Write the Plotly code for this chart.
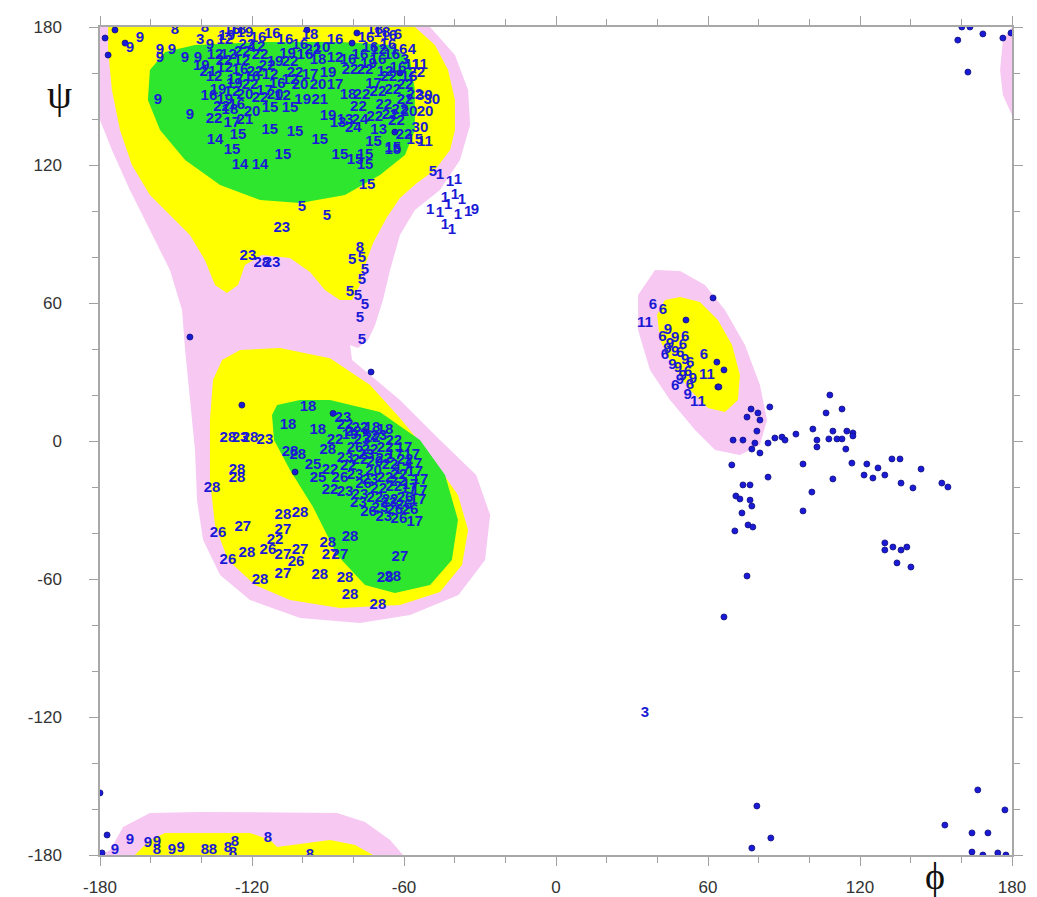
import plotly.graph_objects as go

# ---------------- favoured / allowed regions (phi, psi) ----------------
pink_main = [(-180, 180), (-49.7, 180), (-39.9, 167.8), (-34.7, 152.6), (-33.9, 137.4), (-37.9, 122.2),
             (-45.8, 109.1), (-55.7, 100.4), (-61.6, 89.6), (-65.5, 74.3), (-68.3, 61.3), (-71.4, 50.4),
             (-74.2, 43.9), (-78.2, 40.4), (-81.3, 41.7), (-80.5, 35.2), (-73.4, 28.7), (-61.6, 17.8),
             (-45.8, 0.4), (-31.5, -14.8), (-26, -32.2), (-28, -51.7), (-38.5, -67), (-57.6, -75.7),
             (-77.4, -79.1), (-101, -77), (-120.8, -69.1), (-132.6, -58.3), (-139.3, -43), (-141.7, -25.7),
             (-142.5, -3.9), (-144.5, 17.8), (-146.4, 39.6), (-147.6, 57), (-152.4, 74.3), (-160.3, 91.7),
             (-168.2, 109.1), (-175.3, 126.5), (-180, 139.6)]
yellow_beta = [(-176.8, 180), (-55.7, 180), (-47.8, 172.2), (-42.6, 161.3), (-39.9, 148.3), (-39.9, 135.2),
               (-41.8, 126.5), (-47.8, 117.8), (-54.9, 112.2), (-61.6, 105.7), (-66.7, 97.4), (-72.2, 86.1),
               (-75.4, 76.5), (-77.4, 67.8), (-80.5, 61.3), (-85.3, 61.3), (-91.2, 65.7), (-97.1, 73.5),
               (-105, 79.6), (-116.1, 80.9), (-122.8, 76.5), (-125.5, 67.8), (-129.9, 64.3), (-134.6, 67.8),
               (-138.6, 78.7), (-144.5, 89.6), (-152.4, 98.3), (-160.3, 107), (-167.4, 120), (-172.1, 135.2),
               (-175.3, 152.6), (-176.8, 170)]
green_beta = [(-160.3, 161.3), (-154.3, 169.1), (-142.5, 172.2), (-116.8, 173.5), (-85.3, 173.5), (-65.5, 172.2),
              (-57.6, 165.7), (-55.7, 152.6), (-55.7, 135.2), (-59.6, 124.3), (-69.5, 115.7), (-83.3, 107),
              (-101, 103.5), (-116.8, 104.8), (-132.6, 111.3), (-146.4, 122.2), (-156.3, 135.2), (-161.1, 148.3)]
yellow_alpha = [(-124.7, 39.6), (-109, 40.4), (-89.2, 36), (-73.4, 24.3), (-61.6, 10), (-49.7, -6.1),
                (-38.7, -23.5), (-34.7, -38.7), (-37.1, -53.9), (-45.8, -65.7), (-61.6, -71.3), (-85.3, -72.6),
                (-105, -69.1), (-118.8, -62.6), (-129.5, -51.7), (-134.6, -36.5), (-136.6, -17), (-136.6, 9.1),
                (-135.4, 26.5), (-131.8, 35.2)]
green_alpha = [(-110.1, 15.7), (-101, 17.8), (-89.2, 17.8), (-69.5, 12.6), (-53.7, 0.4), (-43.8, -14.8),
               (-38.7, -34.3), (-41.1, -51.7), (-49.7, -62.6), (-63.6, -66.1), (-75.4, -62.6), (-86.4, -49.6),
               (-95.9, -28.7), (-105, -12.6), (-111.3, 0.4), (-112.1, 11.3)]
pink_left = [(39.1, 74.3), (49, 73.9), (58.8, 67.8), (66.7, 57), (74.6, 41.7), (80.5, 24.3), (83.3, 9.1),
             (80.5, -1.7), (72.6, -6.1), (62.8, -3.9), (54.9, 4.8), (45, 17.8), (37.1, 30.9), (32.4, 48.3),
             (32.4, 63.5)]
yellow_left = [(49, 62.6), (56.8, 60.4), (63.9, 52.6), (69.5, 41.7), (72.6, 28.7), (71.8, 17.8), (66.7, 12.6),
               (60, 14.3), (52.9, 22.2), (45.8, 33), (41.1, 43.9), (39.9, 54.8), (43, 61.3)]
pink_bottom = [(-180, -180), (-176, -177.8), (-170.9, -167.8), (-160.3, -161.7), (-140.5, -161.3),
               (-86.4, -161.7), (-75.4, -165.6), (-65.5, -173.5), (-60.4, -180)]
yellow_bottom = [(-166.2, -180), (-160.3, -173.5), (-154.3, -170.4), (-120.8, -170.4), (-112.9, -173.5),
                 (-110.1, -176.5), (-89.2, -173.5), (-79.3, -175.7), (-72.2, -180)]
pink_topright = [(180, 180), (176.4, 174.3), (175.3, 161.3), (176.4, 150.4), (180, 141.7)]

# ---------------- labelled residues (phi, psi, residue number) ----------------
beta_labels = [
    (-164.2, 175.2, "9"), (-168.2, 170.9, "9"), (-156.3, 170, "9"), (-151.6, 170, "9"), (-150.4, 178.7, "8"),
    (-138.6, 179.6, "8"), (-140.5, 174.3, "3"), (-136.6, 172.2, "9"), (-127.9, 178.7, "16"), (-125.5, 178.7, "18"),
    (-122.8, 177.4, "19"), (-117.6, 175.2, "16"), (-130.7, 174.3, "12"), (-107, 174.3, "16"), (-101, 172.2, "16"),
    (-97.1, 176.5, "18"), (-87.2, 174.3, "16"), (-92.4, 170.9, "10"), (-71.5, 178.7, "18"), (-68.7, 177.4, "18"),
    (-62.4, 176.5, "6"), (-66.3, 172.2, "16"), (-56.9, 170, "4"), (-59.6, 165.7, "3"), (-56.9, 163.5, "11"),
    (-53.7, 163.5, "11"),
    (-156.3, 166.5, "9"), (-146.5, 166.5, "9"), (-141.3, 166.5, "9"), (-134.6, 167.8, "12"), (-129.3, 167.8, "12"),
    (-123.8, 169.1, "22"), (-116.8, 167.8, "22"), (-110.9, 164.8, "19"), (-105, 164.8, "22"), (-99.1, 167.8, "16"),
    (-93.9, 165.7, "18"), (-87.2, 166.5, "12"), (-82.1, 165.7, "16"), (-77.4, 167.8, "16"), (-73.4, 170.9, "16"),
    (-70.3, 165.7, "16"), (-64.8, 167.8, "16"), (-62.4, 162.2, "16"), (-67.5, 160.4, "12"), (-75.4, 161.3, "22"),
    (-81.3, 161.3, "22"), (-137.4, 160.4, "21"), (-130.7, 162.2, "12"), (-124.7, 161.3, "16"), (-118.8, 160.4, "22"),
    (-112.9, 159.1, "12"), (-126.7, 157, "17"), (-120.8, 154.8, "22"),
    (-133.4, 152.6, "19"), (-127.9, 151.7, "12"), (-122.8, 150.4, "20"), (-116.8, 149.1, "22"), (-110.9, 150.4, "20"),
    (-101, 154.8, "20"), (-93.9, 154.8, "20"), (-105, 157, "12"), (-97.1, 159.1, "17"), (-87.2, 154.8, "17"),
    (-93.2, 148.3, "21"), (-82.1, 150.4, "18"), (-76.6, 150.4, "22"), (-70.3, 151.7, "22"), (-64.4, 152.6, "22"),
    (-59.6, 154.8, "22"), (-59.6, 148.3, "22"), (-55.7, 150.4, "22"), (-49, 148.3, "30"), (-51.7, 143, "20"),
    (-53.7, 136.1, "30"), (-51.7, 130, "11"), (-55.7, 130.9, "15"), (-64.4, 127.4, "15"),
    (-128.7, 143.9, "18"), (-122.8, 139.6, "21"), (-112.9, 144.8, "15"), (-105, 144.8, "15"), (-83.3, 139.6, "13"),
    (-77.4, 139.6, "24"), (-71.5, 140.9, "22"), (-65.5, 141.7, "22"), (-61.6, 143.9, "22"), (-157.1, 148.3, "9"),
    (-144.5, 141.7, "9"), (-130.7, 148.3, "19"),
    (-134.6, 130.9, "14"), (-125.5, 133, "15"), (-127.9, 126.5, "15"), (-124.7, 120, "14"), (-116.8, 120, "14"),
    (-107.8, 124.3, "15"), (-113, 135.2, "15"), (-103, 134.3, "15"), (-93.2, 130.9, "15"), (-85.3, 124.3, "15"),
    (-79.3, 122.2, "15"), (-75.4, 120, "15"), (-75.4, 124.3, "15"), (-64.4, 126.5, "15"), (-74.6, 111.3, "15"),
    (-100.3, 101.7, "5"), (-90.4, 97.8, "5"), (-108.2, 92.6, "23"), (-121.6, 80.4, "23"), (-116.1, 77.4, "28"),
    (-112.1, 77.4, "23"),
    (-77.4, 83.9, "8"), (-76.6, 79.6, "5"), (-80.5, 78.7, "5"), (-75.4, 74.3, "5"), (-76.6, 70, "5"),
    (-81.3, 64.8, "5"), (-78.2, 63, "5"), (-75.4, 59.1, "5"), (-77.4, 53.5, "5"), (-76.6, 43.9, "5"),
    (-48.6, 117, "5"), (-45.8, 115.7, "1"), (-41.9, 112.6, "1"), (-38.7, 113.5, "1"), (-43.8, 105.7, "1"),
    (-39.9, 107, "1"), (-37.1, 104.8, "1"), (-49.7, 100.4, "1"), (-45.8, 99.1, "1"), (-42.6, 102.6, "1"),
    (-38.7, 98.3, "1"), (-34.7, 99.6, "1"), (-32, 100.4, "9"), (-43.8, 93.9, "1"), (-41.1, 91.7, "1"),
    # dense core of the beta cluster
    (-140, 163, "19"), (-135, 158, "12"), (-131, 165, "22"), (-127, 155, "19"), (-124, 165, "12"),
    (-120, 158, "16"), (-118, 171, "12"), (-114, 163, "22"), (-110, 155, "16"), (-106, 168, "19"),
    (-103, 160, "22"), (-132, 145, "22"), (-126, 146, "16"), (-120, 143, "20"), (-115, 152, "17"),
    (-108, 150, "12"), (-100, 148, "19"), (-137, 150, "16"), (-135, 140, "22"), (-128, 138, "17"),
    (-96, 170, "22"), (-90, 160, "19"), (-130, 176, "19"), (-122, 172, "22"), (-112, 177, "16"),
    (-75, 175, "16"), (-70, 170, "12"), (-66, 158, "22"), (-62, 170, "16"), (-58, 158, "16"),
    (-72, 155, "17"), (-68, 146, "22"), (-63, 139, "22"), (-58, 143, "20"), (-55, 160, "22"),
    (-52, 150, "30"), (-60, 133, "22"), (-70, 135, "13"), (-78, 145, "22"), (-74, 164, "19"),
    (-66, 176, "16"), (-80, 136, "24"), (-86, 138, "13"), (-90, 141, "19"), (-72, 130, "15"),
]
alpha_labels = [
    (-97.9, 14.8, "18"), (-105.8, 7, "18"), (-94, 4.8, "18"), (-84.1, 10, "23"), (-67.5, 4.8, "18"),
    (-129.5, 1.3, "28"), (-124.7, 1.3, "23"), (-120.8, 1.3, "28"), (-114.9, 0.4, "23"), (-125.9, -12.6, "28"),
    (-125.9, -16.1, "28"), (-135.8, -20.4, "28"), (-105, -4.8, "28"), (-101.9, -6.1, "28"), (-107.8, -32.2, "28"),
    (-101, -31.3, "28"), (-123.6, -37.4, "27"), (-133.4, -40, "26"), (-107.8, -38.7, "27"), (-110.9, -43.1, "22"),
    (-129.5, -51.7, "26"), (-122, -48.7, "28"), (-113.7, -47.4, "26"), (-107.8, -49.6, "27"), (-101, -47.4, "27"),
    (-102.6, -52.6, "26"), (-116.8, -60.4, "28"), (-107.8, -57.8, "27"), (-93.2, -58.3, "28"), (-83.3, -59.6, "28"),
    (-90.1, -44.3, "28"), (-81.3, -41.7, "28"), (-89.2, -49.6, "27"), (-85.3, -49.6, "27"), (-67.5, -59.6, "28"),
    (-64.4, -59.2, "28"), (-81.3, -67, "28"), (-70.3, -71.3, "28"), (-61.6, -50.4, "27"), (-55.7, -35.2, "17"),
    (-87.2, 0.4, "22"), (-81.3, 2.6, "19"), (-76.6, 0.4, "23"), (-72.6, 1.3, "22"), (-79.3, -3, "26"),
    (-73.4, -3.9, "22"), (-67.5, -3, "22"), (-63.6, -6.1, "17"), (-59.6, -8.3, "22"), (-56.9, -6.1, "17"),
    (-83.3, -7.4, "23"), (-77.4, -8.3, "22"), (-71.5, -9.1, "20"), (-65.5, -10.4, "22"), (-60.8, -12.6, "17"),
    (-55.7, -13.5, "17"), (-89.2, -12.6, "22"), (-93.9, -16.1, "25"), (-85.3, -16.1, "26"), (-79.3, -14.8, "23"),
    (-73.4, -17, "23"), (-67.5, -16.1, "22"), (-62.4, -17.8, "22"), (-57.6, -19.1, "17"), (-53.7, -17, "17"),
    (-89.2, -21.3, "22"), (-83.3, -22.2, "23"), (-77.4, -23.5, "23"), (-71.5, -24.8, "22"), (-65.5, -25.7, "22"),
    (-59.6, -24.8, "26"), (-54.5, -25.7, "17"), (-63.6, -30, "26"), (-57.6, -30, "26"), (-69.5, -29.1, "23"),
    (-83.3, 7, "22"), (-77.4, 5.7, "22"), (-72.6, 5.7, "18"), (-90.1, -3.9, "28"), (-95.9, -10.4, "25"),
    # dense core of the alpha cluster
    (-80, 4, "22"), (-70, 2, "23"), (-64, 0, "22"), (-60, -3, "17"), (-75, -6, "23"), (-68, -8, "22"),
    (-62, -15, "22"), (-58, -21, "17"), (-64, -20, "22"), (-70, -21, "22"), (-76, -19, "26"), (-82, -11, "22"),
    (-66, -27, "23"), (-60, -28, "26"), (-54, -22, "17"), (-56, -10, "17"), (-72, -13, "20"), (-78, -27, "23"),
    (-74, -31, "26"), (-68, -33, "23"), (-62, -34, "26"),
]
left_labels = [
    (38.3, 59.1, "6"), (42.2, 57, "6"), (35.1, 51.3, "11"), (58.4, 37.4, "6"), (59.6, 28.7, "11"), (56, 16.9, "11"),
    (44.2, 48.3, "9"), (47, 44.8, "9"), (50.1, 41.7, "6"), (43, 37.4, "6"), (47, 38.7, "9"), (51, 35.2, "9"),
    (48.1, 31.7, "9"), (52.1, 30, "6"), (52.9, 24.3, "6"), (48.9, 26.5, "9"),
    (45, 42, "9"), (49, 38, "6"), (46, 33, "9"), (50, 28, "9"), (53, 34, "6"), (44, 40, "9"), (51, 45, "6"),
    (47, 24, "6"), (52, 20, "9"), (54, 27, "9"), (42, 45, "6"),
]
bottom_labels = [
    (-168.2, -173.5, "9"), (-161.1, -174.8, "9"), (-157.5, -174.3, "9"), (-157.5, -177.8, "8"), (-151.6, -177.8, "9"),
    (-148.2, -177, "9"), (-138.6, -177.8, "8"), (-135.4, -177.8, "8"), (-129.5, -177, "8"), (-126.7, -174.3, "8"),
    (-127.5, -179.1, "8"), (-113.7, -172.6, "8"), (-97.1, -180, "8"), (-174.1, -177.8, "9"), (35.1, -118.3, "3"),
]

# ---------------- unlabelled residues as dots ----------------
dots = [
    (-178, 175.2), (-174.1, 178.7), (-170.1, 173), (-176.8, 167.8), (-98.3, 178.7), (-78.6, 177.4), (-80.5, 173),
    (-63.6, 134.3), (-61.6, 160), (-144.5, 45.2), (-124, 15.6), (-73, 30), (-180, -153), (-177.2, -171.3),
    (-179.2, -179.1), (-103, -13.5), (-88, 12), (-75, 4),
    (62, 62.2), (51.3, 52.6), (63.5, 34.3), (66.3, 30.9), (63.9, 23.5),
    (108.1, 20), (112.9, 13.9), (106.6, 12.2), (64.3, 23.5), (77, 13.9), (79.7, 12.2), (80.5, 9.1), (75.4, 10.4),
    (84.4, 14.8), (79.3, 4.3), (69.9, 0.4), (73.8, 0.4), (78.5, -0.9), (77.3, -3.5), (80.5, -5.2), (83.7, -0.9),
    (86.4, 1.3), (89.2, 1.7), (90.4, 0.4), (94.7, 3), (101.4, 5.2), (103, 0.4), (103, -2.6), (107.7, 0.9),
    (110.9, 0.9), (112.9, 0.9), (109.3, 4.3), (114.8, 4.3), (117.2, 3.5), (117.2, 2.2), (114.4, -3.5),
    (69.4, -10.4), (83.7, -15.7), (97.5, -10), (116.8, -9.6), (122.7, -10), (127.1, -11.7), (132.6, -7.8),
    (135.8, -7.8), (144.1, -12.2), (121.6, -14.8), (125.1, -16.1), (129.8, -14.8), (109.3, -16.5), (136.2, -18.3),
    (140.9, -20.4), (152.3, -18.3), (154.7, -20), (73.8, -19.1), (76.6, -19.1), (71, -23.9), (72.6, -25.2),
    (76.6, -25.7), (77.3, -28.3), (73.4, -31.3), (101, -22.2), (97.5, -30.4), (75.8, -36.5), (77.7, -37.4),
    (70.6, -39.1), (129.8, -44.3), (129.8, -47.4), (133, -46.1), (136.2, -47.4), (138.5, -46.1), (134.6, -53),
    (140.1, -54.8), (75.4, -58.7), (66.3, -76.5),
    (160.2, 180), (163.4, 180), (158.6, 174.3), (168.5, 177), (176.4, 175.2), (179.6, 177.4), (162.6, 160.4),
    (79.3, -158.7), (84.8, -172.6), (77.3, -177), (166.5, -151.7), (153.5, -167), (177.2, -160.4), (164.2, -170.4),
    (170.5, -170.4), (164.2, -178.7), (168.5, -180), (174.4, -179.1), (177.6, -180),
]

PINK = "#f6c8f2"
YELLOW = "#ffff00"
GREEN = "#2ee62e"
BLUE = "#1a1ad6"

fig = go.Figure()


def add_region(pts, color):
    fig.add_trace(go.Scatter(x=[p[0] for p in pts] + [pts[0][0]], y=[p[1] for p in pts] + [pts[0][1]],
                             fill="toself", fillcolor=color, mode="lines", line=dict(width=0, color=color),
                             hoverinfo="skip", showlegend=False))


for pts, col in [(pink_main, PINK), (pink_left, PINK), (pink_bottom, PINK), (pink_topright, PINK),
                 (yellow_beta, YELLOW), (yellow_alpha, YELLOW), (yellow_left, YELLOW), (yellow_bottom, YELLOW),
                 (green_beta, GREEN), (green_alpha, GREEN)]:
    add_region(pts, col)

fig.add_trace(go.Scatter(x=[d[0] for d in dots], y=[d[1] for d in dots], mode="markers",
                         marker=dict(size=6, color=BLUE, line=dict(width=0.8, color="#10107a")),
                         showlegend=False))

all_labels = beta_labels + alpha_labels + left_labels + bottom_labels
fig.add_trace(go.Scatter(x=[l[0] for l in all_labels], y=[l[1] for l in all_labels],
                         text=[l[2] for l in all_labels], mode="text",
                         textfont=dict(family="Liberation Sans, Arial", size=15, color=BLUE, weight="bold"),
                         showlegend=False))

ticks = list(range(-180, 181, 60))
axis_common = dict(range=[-180, 180], tickvals=ticks, ticktext=[str(t) for t in ticks], ticks="outside",
                   ticklen=9, tickcolor="#a0a0a0", tickwidth=1.2, showline=True, linecolor="#a8a8a8",
                   linewidth=1.5, mirror="ticks", showgrid=False, zeroline=False,
                   tickfont=dict(family="Liberation Sans, Arial", size=17, color="#333333"),
                   minor=dict(dtick=20, tick0=-180, ticks="outside", ticklen=6, tickcolor="#a0a0a0",
                              showgrid=False))
fig.update_xaxes(**axis_common, ticklabelstandoff=7)
fig.update_yaxes(**axis_common, ticklabelstandoff=24)

fig.add_annotation(text="ψ", xref="paper", yref="paper", x=-0.044, y=0.918, xanchor="center", yanchor="middle",
                   showarrow=False, font=dict(family="Liberation Serif, DejaVu Serif", size=40, color="#111111"))
fig.add_annotation(text="ϕ", xref="paper", yref="paper", x=0.9156, y=-0.025, xanchor="center", yanchor="middle",
                   showarrow=False, font=dict(family="Liberation Serif, DejaVu Serif", size=38, color="#111111"))

# the page body adds an 8px offset, so the figure is 8px smaller and margins shifted
fig.update_layout(width=1029, height=889, margin=dict(l=92, r=25, t=19, b=42, autoexpand=False),
                  plot_bgcolor="white", paper_bgcolor="white")

fig.write_html("out.html")
